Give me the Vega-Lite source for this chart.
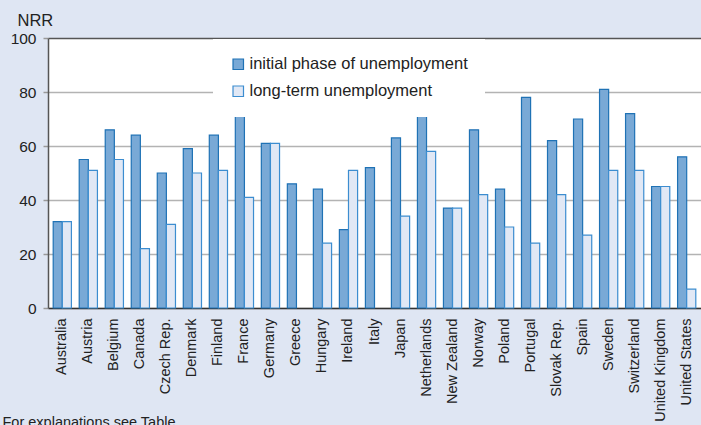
{
  "$schema": "https://vega.github.io/schema/vega-lite/v6.json",
  "width": 653,
  "height": 270,
  "autosize": {"type": "none"},
  "padding": {"left": 48, "top": 38, "right": 0, "bottom": 117},
  "background": "#dfe6f3",
  "config": {
    "font": "Liberation Sans",
    "view": {"fill": "white", "stroke": null}
  },
  "data": {
    "values": [
      {"country": "Australia", "series": "initial phase of unemployment", "nrr": 32},
      {"country": "Australia", "series": "long-term unemployment", "nrr": 32},
      {"country": "Austria", "series": "initial phase of unemployment", "nrr": 55},
      {"country": "Austria", "series": "long-term unemployment", "nrr": 51},
      {"country": "Belgium", "series": "initial phase of unemployment", "nrr": 66},
      {"country": "Belgium", "series": "long-term unemployment", "nrr": 55},
      {"country": "Canada", "series": "initial phase of unemployment", "nrr": 64},
      {"country": "Canada", "series": "long-term unemployment", "nrr": 22},
      {"country": "Czech Rep.", "series": "initial phase of unemployment", "nrr": 50},
      {"country": "Czech Rep.", "series": "long-term unemployment", "nrr": 31},
      {"country": "Denmark", "series": "initial phase of unemployment", "nrr": 59},
      {"country": "Denmark", "series": "long-term unemployment", "nrr": 50},
      {"country": "Finland", "series": "initial phase of unemployment", "nrr": 64},
      {"country": "Finland", "series": "long-term unemployment", "nrr": 51},
      {"country": "France", "series": "initial phase of unemployment", "nrr": 71},
      {"country": "France", "series": "long-term unemployment", "nrr": 41},
      {"country": "Germany", "series": "initial phase of unemployment", "nrr": 61},
      {"country": "Germany", "series": "long-term unemployment", "nrr": 61},
      {"country": "Greece", "series": "initial phase of unemployment", "nrr": 46},
      {"country": "Hungary", "series": "initial phase of unemployment", "nrr": 44},
      {"country": "Hungary", "series": "long-term unemployment", "nrr": 24},
      {"country": "Ireland", "series": "initial phase of unemployment", "nrr": 29},
      {"country": "Ireland", "series": "long-term unemployment", "nrr": 51},
      {"country": "Italy", "series": "initial phase of unemployment", "nrr": 52},
      {"country": "Japan", "series": "initial phase of unemployment", "nrr": 63},
      {"country": "Japan", "series": "long-term unemployment", "nrr": 34},
      {"country": "Netherlands", "series": "initial phase of unemployment", "nrr": 71},
      {"country": "Netherlands", "series": "long-term unemployment", "nrr": 58},
      {"country": "New Zealand", "series": "initial phase of unemployment", "nrr": 37},
      {"country": "New Zealand", "series": "long-term unemployment", "nrr": 37},
      {"country": "Norway", "series": "initial phase of unemployment", "nrr": 66},
      {"country": "Norway", "series": "long-term unemployment", "nrr": 42},
      {"country": "Poland", "series": "initial phase of unemployment", "nrr": 44},
      {"country": "Poland", "series": "long-term unemployment", "nrr": 30},
      {"country": "Portugal", "series": "initial phase of unemployment", "nrr": 78},
      {"country": "Portugal", "series": "long-term unemployment", "nrr": 24},
      {"country": "Slovak Rep.", "series": "initial phase of unemployment", "nrr": 62},
      {"country": "Slovak Rep.", "series": "long-term unemployment", "nrr": 42},
      {"country": "Spain", "series": "initial phase of unemployment", "nrr": 70},
      {"country": "Spain", "series": "long-term unemployment", "nrr": 27},
      {"country": "Sweden", "series": "initial phase of unemployment", "nrr": 81},
      {"country": "Sweden", "series": "long-term unemployment", "nrr": 51},
      {"country": "Switzerland", "series": "initial phase of unemployment", "nrr": 72},
      {"country": "Switzerland", "series": "long-term unemployment", "nrr": 51},
      {"country": "United Kingdom", "series": "initial phase of unemployment", "nrr": 45},
      {"country": "United Kingdom", "series": "long-term unemployment", "nrr": 45},
      {"country": "United States", "series": "initial phase of unemployment", "nrr": 56},
      {"country": "United States", "series": "long-term unemployment", "nrr": 7}
    ]
  },
  "mark": {"type": "bar", "strokeWidth": 1.2},
  "encoding": {
    "x": {
      "field": "country",
      "type": "nominal",
      "sort": null,
      "scale": {"paddingInner": 0.3, "paddingOuter": 0.2},
      "axis": {
        "labelAngle": -90,
        "labelAlign": "right",
        "labelBaseline": "middle",
        "labelFontSize": 14.5,
        "labelColor": "#222222",
        "labelPadding": 10,
        "labelLimit": 200,
        "ticks": false,
        "domainColor": "#333333",
        "domainWidth": 1.5,
        "title": "For explanations see Table",
        "titleFontSize": 14.5,
        "titleFontWeight": "normal",
        "titleColor": "#222222",
        "titleAlign": "left",
        "titleBaseline": "top",
        "titleX": -46,
        "titleY": 107
      }
    },
    "xOffset": {"field": "series", "type": "nominal", "scale": {"paddingInner": 0, "paddingOuter": 0}},
    "y": {
      "field": "nrr",
      "type": "quantitative",
      "scale": {"domain": [0, 100]},
      "axis": {
        "values": [0, 20, 40, 60, 80, 100],
        "labelFontSize": 15.5,
        "labelColor": "#222222",
        "labelPadding": 7,
        "tickSize": 5,
        "tickColor": "#999999",
        "tickWidth": 1.5,
        "domainColor": "#555555",
        "domainWidth": 1.5,
        "gridColor": {"condition": {"test": "datum.value === 100", "value": "#555555"}, "value": "#b3b3b3"},
        "gridWidth": 1.5,
        "title": "NRR",
        "titleAngle": 0,
        "titleFontSize": 16.5,
        "titleFontWeight": "normal",
        "titleColor": "#222222",
        "titleAlign": "left",
        "titleBaseline": "alphabetic",
        "titleX": -31,
        "titleY": -13
      }
    },
    "color": {
      "field": "series",
      "type": "nominal",
      "scale": {
        "domain": ["initial phase of unemployment", "long-term unemployment"],
        "range": ["#79a9d6", "#e1e8f5"]
      },
      "legend": {
        "orient": "none",
        "legendX": 165,
        "legendY": 1,
        "title": null,
        "fillColor": "white",
        "padding": 17,
        "rowPadding": 10,
        "symbolType": "square",
        "symbolSize": 110,
        "symbolStrokeColor": "#1f77bd",
        "symbolStrokeWidth": 1.2,
        "labelFontSize": 16.5,
        "labelLimit": 300,
        "labelColor": "#222222",
        "labelOffset": 3
      }
    },
    "stroke": {
      "field": "series",
      "type": "nominal",
      "scale": {
        "domain": ["initial phase of unemployment", "long-term unemployment"],
        "range": ["#1f72b5", "#3c8dd0"]
      },
      "legend": null
    }
  }
}
